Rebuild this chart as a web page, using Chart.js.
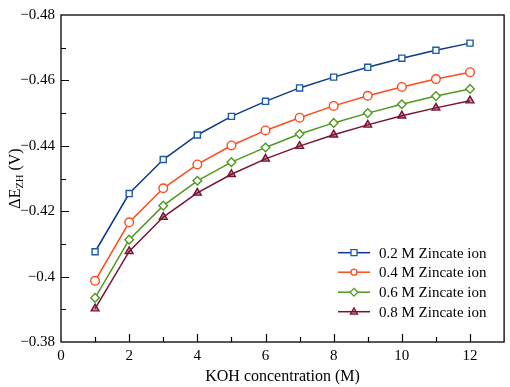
<!DOCTYPE html>
<html>
<head>
<meta charset="utf-8">
<script src="https://cdn.jsdelivr.net/npm/chart.js@4.4.1/dist/chart.umd.min.js"></script>
<style>
  html, body { margin: 0; padding: 0; background: #fff; }
  #wrap { width: 510px; height: 387px; }
</style>
</head>
<body>
<div id="wrap"><canvas id="myChart" width="510" height="387"></canvas></div>
<script>
// KOH concentration (M)
var koh = [1, 2, 3, 4, 5, 6, 7, 8, 9, 10, 11, 12];
// delta E_ZH (V) for each zincate concentration
var zn02 = [-0.4076, -0.4254, -0.4358, -0.4433, -0.4490, -0.4536, -0.4577, -0.4610, -0.4640, -0.4668, -0.4692, -0.4714];
var zn04 = [-0.3987, -0.4166, -0.4270, -0.4343, -0.4401, -0.4447, -0.4486, -0.4522, -0.4553, -0.4580, -0.4604, -0.4625];
var zn06 = [-0.3935, -0.4113, -0.4217, -0.4293, -0.4350, -0.4395, -0.4436, -0.4470, -0.4500, -0.4527, -0.4552, -0.4574];
var zn08 = [-0.3902, -0.4077, -0.4182, -0.4256, -0.4313, -0.4360, -0.4399, -0.4434, -0.4464, -0.4492, -0.4516, -0.4538];
var seriesNames = ['0.2 M Zincate ion', '0.4 M Zincate ion', '0.6 M Zincate ion', '0.8 M Zincate ion'];
var xTickLabels = [0, 2, 4, 6, 8, 10, 12];
var yTickLabels = [-0.48, -0.46, -0.44, -0.42, -0.4, -0.38];

var serif = "'Liberation Serif', 'Times New Roman', serif";

function pts(ys) {
    return koh.map(function (x, i) { return { x: x, y: ys[i] }; });
}

function makeSet(label, ys, line, mark, fill, style) {
    return {
        label: label,
        data: pts(ys),
        borderColor: line,
        borderWidth: 1.5,
        pointStyle: style,
        pointRadius: style === 'triangle' ? 4.5 : 4.3,
        pointBorderColor: mark,
        pointBackgroundColor: fill,
        pointBorderWidth: 1.4,
        tension: 0
    };
}

var sets = [
    makeSet(seriesNames[0], zn02, '#0d3a8a', '#1d5aa8', '#ffffff', 'rect'),
    makeSet(seriesNames[1], zn04, '#ff4a1c', '#ff4a1c', '#ffffff', 'circle'),
    makeSet(seriesNames[2], zn06, '#4f9a1e', '#4f9a1e', '#ffffff', 'rectRot'),
    makeSet(seriesNames[3], zn08, '#7a1232', '#7a1232', 'rgba(122,18,50,0.45)', 'triangle')
];

function near(v, list) {
    for (var i = 0; i < list.length; i++) {
        if (Math.abs(v - list[i]) < 1e-6) return true;
    }
    return false;
}

function drawMark(c, style, x, y, r) {
    if (style === 'rect') {
        c.rect(x - r, y - r, 2 * r, 2 * r);
    } else if (style === 'circle') {
        c.arc(x, y, r, 0, Math.PI * 2);
    } else if (style === 'rectRot') {
        c.moveTo(x, y - r * 1.3); c.lineTo(x + r * 1.3, y); c.lineTo(x, y + r * 1.3); c.lineTo(x - r * 1.3, y); c.closePath();
    } else {
        c.moveTo(x, y - r * 1.3); c.lineTo(x + r * 1.2, y + r * 0.8); c.lineTo(x - r * 1.2, y + r * 0.8); c.closePath();
    }
}

// inward ticks, frame, y title and legend
var decor = {
    id: 'decor',
    afterDraw: function (chart) {
        var c = chart.ctx, a = chart.chartArea;
        var xs = chart.scales.x, ys = chart.scales.y;
        c.save();
        c.strokeStyle = '#000';
        c.lineWidth = 1.3;
        c.strokeRect(a.left, a.top, a.right - a.left, a.bottom - a.top);

        c.lineWidth = 1.2;
        c.beginPath();
        for (var i = 1; i < 13; i++) {
            var px = Math.round(xs.getPixelForValue(i)) + 0.5;
            var len = (i % 2 === 0) ? 8 : 5;
            c.moveTo(px, a.bottom);
            c.lineTo(px, a.bottom - len);
        }
        for (var k = 1; k < 10; k++) {
            var py = Math.round(ys.getPixelForValue(-0.48 + k * 0.01)) + 0.5;
            var ylen = (k % 2 === 0) ? 8 : 5;
            c.moveTo(a.left, py);
            c.lineTo(a.left + ylen, py);
        }
        c.stroke();

        // y axis title with subscript
        c.fillStyle = '#000';
        c.translate(19.5, (a.top + a.bottom) / 2);
        c.rotate(-Math.PI / 2);
        c.textBaseline = 'alphabetic';
        c.textAlign = 'left';
        var big = '16px ' + serif, small = '10.5px ' + serif;
        c.font = big;
        var w1 = c.measureText('ΔE').width;
        var w3 = c.measureText(' (V)').width;
        c.font = small;
        var w2 = c.measureText('ZH').width;
        var x0 = -(w1 + w2 + w3) / 2;
        c.font = big;
        c.fillText('ΔE', x0, 0);
        c.font = small;
        c.fillText('ZH', x0 + w1, 3);
        c.font = big;
        c.fillText(' (V)', x0 + w1 + w2, 0);
        c.setTransform(1, 0, 0, 1, 0, 0);

        // legend
        var rowY = [252.7, 272.2, 292.2, 311.7];
        chart.data.datasets.forEach(function (ds, j) {
            var y = rowY[j];
            c.strokeStyle = ds.borderColor;
            c.lineWidth = 1.5;
            c.beginPath();
            c.moveTo(338, y);
            c.lineTo(370, y);
            c.stroke();
            c.fillStyle = ds.pointBackgroundColor;
            c.strokeStyle = ds.pointBorderColor;
            c.lineWidth = 1.3;
            c.beginPath();
            drawMark(c, ds.pointStyle, 354, y, 3);
            c.fill();
            c.stroke();
            c.fillStyle = '#000';
            c.font = '15px ' + serif;
            c.textBaseline = 'middle';
            c.textAlign = 'left';
            c.fillText(ds.label, 379, y + 1);
        });
        c.restore();
    }
};

var ctx = document.getElementById('myChart').getContext('2d');
var myChart = new Chart(ctx, {
    type: 'line',
    data: { datasets: sets },
    options: {
        responsive: false,
        animation: false,
        layout: { padding: { left: 0, top: 7, right: 3, bottom: 0 } },
        plugins: {
            legend: { display: false },
            tooltip: { enabled: false }
        },
        scales: {
            x: {
                type: 'linear',
                min: 0,
                max: 13,
                grid: { display: false, drawTicks: false },
                border: { display: false },
                ticks: {
                    stepSize: 1,
                    padding: 5,
                    color: '#000',
                    font: { family: serif, size: 15 },
                    maxRotation: 0,
                    autoSkip: false,
                    callback: function (v) { return near(v, xTickLabels) ? String(v) : ''; }
                },
                title: {
                    display: true,
                    text: 'KOH concentration (M)',
                    color: '#000',
                    font: { family: serif, size: 16 },
                    padding: { top: 0, bottom: 1 }
                },
                afterFit: function (s) { s.height = 45; }
            },
            y: {
                type: 'linear',
                reverse: true,
                min: -0.48,
                max: -0.38,
                grid: { display: false, drawTicks: false },
                border: { display: false },
                ticks: {
                    stepSize: 0.01,
                    padding: 6,
                    color: '#000',
                    font: { family: serif, size: 15 },
                    autoSkip: false,
                    callback: function (v) {
                        if (!near(v, yTickLabels)) return '';
                        return '\u2212' + parseFloat(Math.abs(v).toFixed(2)).toString();
                    }
                },
                afterFit: function (s) { s.width = 61; }
            }
        }
    },
    plugins: [decor]
});
</script>
</body>
</html>
